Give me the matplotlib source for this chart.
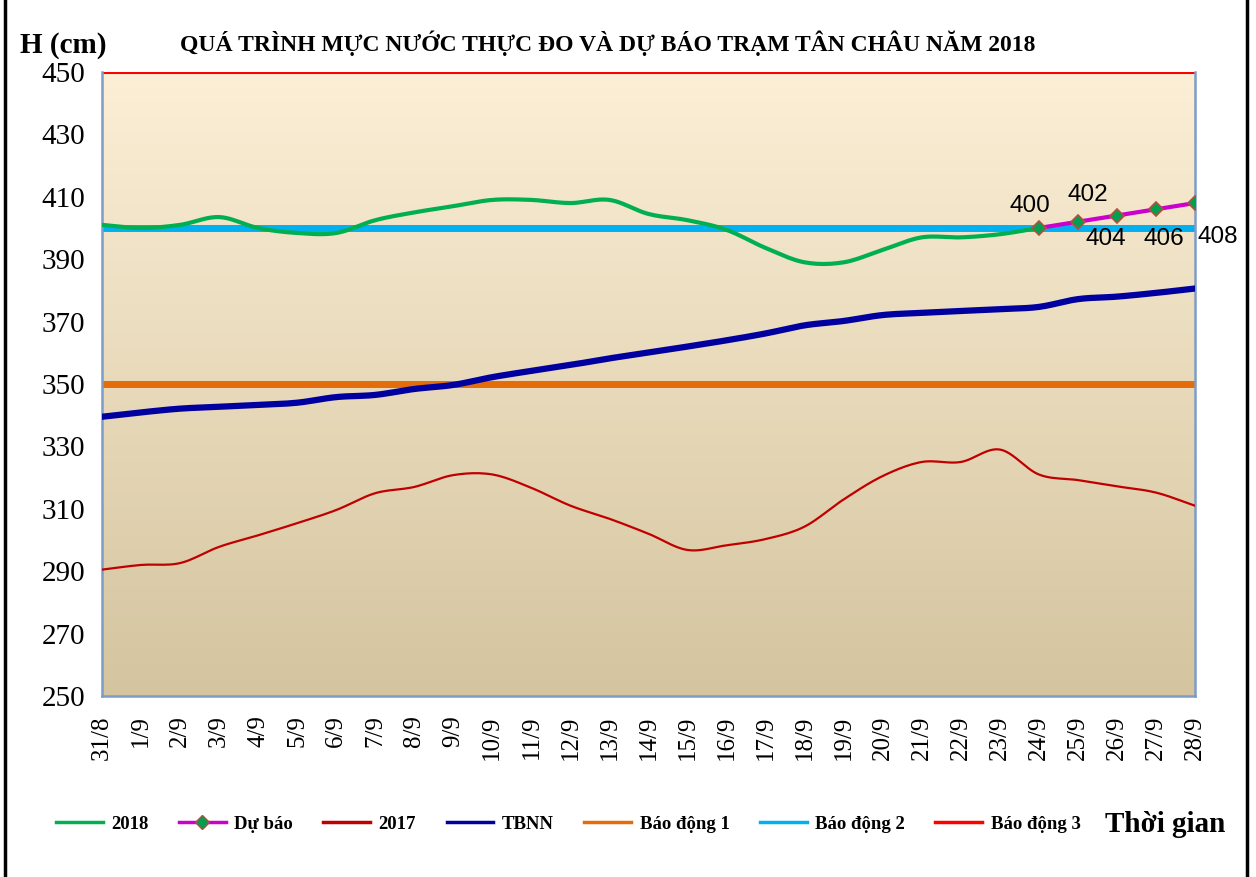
import numpy as np
import matplotlib
matplotlib.use("Agg")
import matplotlib.pyplot as plt
from matplotlib.lines import Line2D
from matplotlib.colors import LinearSegmentedColormap

# data
dates = ["31/8", "1/9", "2/9", "3/9", "4/9", "5/9", "6/9", "7/9", "8/9", "9/9",
         "10/9", "11/9", "12/9", "13/9", "14/9", "15/9", "16/9", "17/9", "18/9",
         "19/9", "20/9", "21/9", "22/9", "23/9", "24/9", "25/9", "26/9", "27/9", "28/9"]

h2018 = [401, 400, 401, 403.5, 400, 398.4, 398.4, 402.5, 405, 407, 409, 409, 408,
         409, 404.5, 402.5, 399.4, 393.6, 389, 389, 393, 397, 397, 398, 400]

forecast = [400, 402, 404, 406, 408]  # 24/9 .. 28/9

h2017 = [290.5, 292, 292.6, 297.8, 301.5, 305.4, 309.6, 315, 317, 320.8, 321, 316.7,
         311, 306.8, 302, 296.8, 298.3, 300.3, 304.3, 313, 320.5, 325, 325, 329,
         321, 319.2, 317.2, 315.2, 311]

tbnn = [339.5, 340.9, 342.1, 342.7, 343.3, 344, 345.8, 346.5, 348.4, 349.7, 352.2,
        354.2, 356.1, 358.2, 360.1, 362, 364, 366.2, 368.8, 370.2, 372.1, 372.8,
        373.4, 374, 374.7, 377.2, 378, 379.2, 380.6]

alarm1, alarm2, alarm3 = 350, 400, 450

yticks = list(range(250, 451, 20))


def smooth(xs, ys, n=12):
    """Catmull-Rom curve through the points, like Excel smoothed lines."""
    xs = np.asarray(xs, float)
    ys = np.asarray(ys, float)
    px = np.concatenate([[2 * xs[0] - xs[1]], xs, [2 * xs[-1] - xs[-2]]])
    py = np.concatenate([[2 * ys[0] - ys[1]], ys, [2 * ys[-1] - ys[-2]]])
    outx, outy = [], []
    t = np.linspace(0, 1, n, endpoint=False)
    for i in range(1, len(px) - 2):
        for p, out in ((px, outx), (py, outy)):
            p0, p1, p2, p3 = p[i - 1], p[i], p[i + 1], p[i + 2]
            out.extend(0.5 * ((2 * p1) + (-p0 + p2) * t
                              + (2 * p0 - 5 * p1 + 4 * p2 - p3) * t ** 2
                              + (-p0 + 3 * p1 - 3 * p2 + p3) * t ** 3))
    outx.append(xs[-1])
    outy.append(ys[-1])
    return outx, outy


serif = "Liberation Serif"
fig = plt.figure(figsize=(12.56, 8.77), dpi=100)
ax = fig.add_axes([0.0812, 0.2064, 0.8702, 0.7115])

x = np.arange(len(dates))
ax.set_xlim(0, len(dates) - 1)
ax.set_ylim(250, 450)

# gradient background
cmap = LinearSegmentedColormap.from_list("bg", ["#D4C49F", "#FCEFD6"])
grad = np.linspace(0, 1, 256).reshape(-1, 1)
ax.imshow(grad, cmap=cmap, origin="lower", aspect="auto",
          extent=[0, len(dates) - 1, 250, 450], zorder=0)

ax.axhline(alarm3, color="#FF0000", lw=2.2, zorder=2)
ax.axhline(alarm2, color="#00B0F0", lw=5, zorder=2)
ax.axhline(alarm1, color="#E46C0A", lw=5, zorder=2)

sx, sy = smooth(x, tbnn)
ax.plot(sx, sy, color="#0000A0", lw=4.5, zorder=3)
sx, sy = smooth(x, h2017)
ax.plot(sx, sy, color="#C00000", lw=1.6, zorder=3)
sx, sy = smooth(x[:len(h2018)], h2018)
ax.plot(sx, sy, color="#00B050", lw=3, zorder=4)

fx = x[len(h2018) - 1:]
ax.plot(fx, forecast, color="#CC00CC", lw=3, zorder=5)
ax.plot(fx, forecast, ls="none", marker="D", ms=7, mfc="#00A050",
        mec="#B0503C", mew=1.2, zorder=6)

# value labels (pixel offsets of label centre from the point)
offsets = [(-9, 22), (10, 27), (-11, -23), (8, -30), (23, -34)]
for xi, v, (dx, dy) in zip(fx, forecast, offsets):
    ax.annotate(str(v), (xi, v), xytext=(dx, dy), textcoords="offset pixels",
                ha="center", va="center", fontsize=17.5, family="Liberation Sans",
                annotation_clip=False, zorder=7)

ax.set_yticks(yticks)
ax.set_yticklabels([str(v) for v in yticks], fontsize=21, family=serif)
ax.set_xticks(x)
ax.set_xticklabels(dates, rotation=90, fontsize=18, family=serif)
ax.tick_params(axis="both", length=0)
ax.tick_params(axis="y", pad=12)
ax.tick_params(axis="x", pad=14)

for side in ["left", "right", "bottom"]:
    ax.spines[side].set_color("#7E9CC8")
    ax.spines[side].set_linewidth(1.8)
ax.spines["top"].set_visible(False)

fig.text(0.016, 0.948, "H (cm)", fontsize=21, fontweight="bold", family=serif,
         ha="left", va="center")
fig.text(0.484, 0.951, "QUÁ TRÌNH MỰC NƯỚC THỰC ĐO VÀ DỰ BÁO TRẠM TÂN CHÂU NĂM 2018",
         fontsize=17, fontweight="bold", family=serif, ha="center", va="center")

handles = [
    Line2D([], [], color="#00B050", lw=2.5),
    Line2D([], [], color="#CC00CC", lw=2.5, marker="D", ms=7, mfc="#00A050", mec="#B0503C"),
    Line2D([], [], color="#C00000", lw=2.5),
    Line2D([], [], color="#0000A0", lw=2.5),
    Line2D([], [], color="#E46C0A", lw=2.5),
    Line2D([], [], color="#00B0F0", lw=2.5),
    Line2D([], [], color="#FF0000", lw=2.5),
]
labels = ["2018", "Dự báo", "2017", "TBNN", "Báo động 1", "Báo động 2", "Báo động 3"]
fig.legend(handles, labels, loc="center left", bbox_to_anchor=(0.037, 0.06),
           ncol=7, frameon=False, handlelength=2.5, handletextpad=0.45,
           columnspacing=1.62, borderpad=0,
           prop={"family": serif, "weight": "bold", "size": 13.5})

fig.text(0.976, 0.06, "Thời gian", fontsize=21, fontweight="bold", family=serif,
         ha="right", va="center")

# outer frame
fig.add_artist(Line2D([0.004, 0.004], [0, 1], color="black", lw=2.5, transform=fig.transFigure))
fig.add_artist(Line2D([0.993, 0.993], [0, 1], color="black", lw=2.5, transform=fig.transFigure))

fig.savefig("out.png", dpi=100)
